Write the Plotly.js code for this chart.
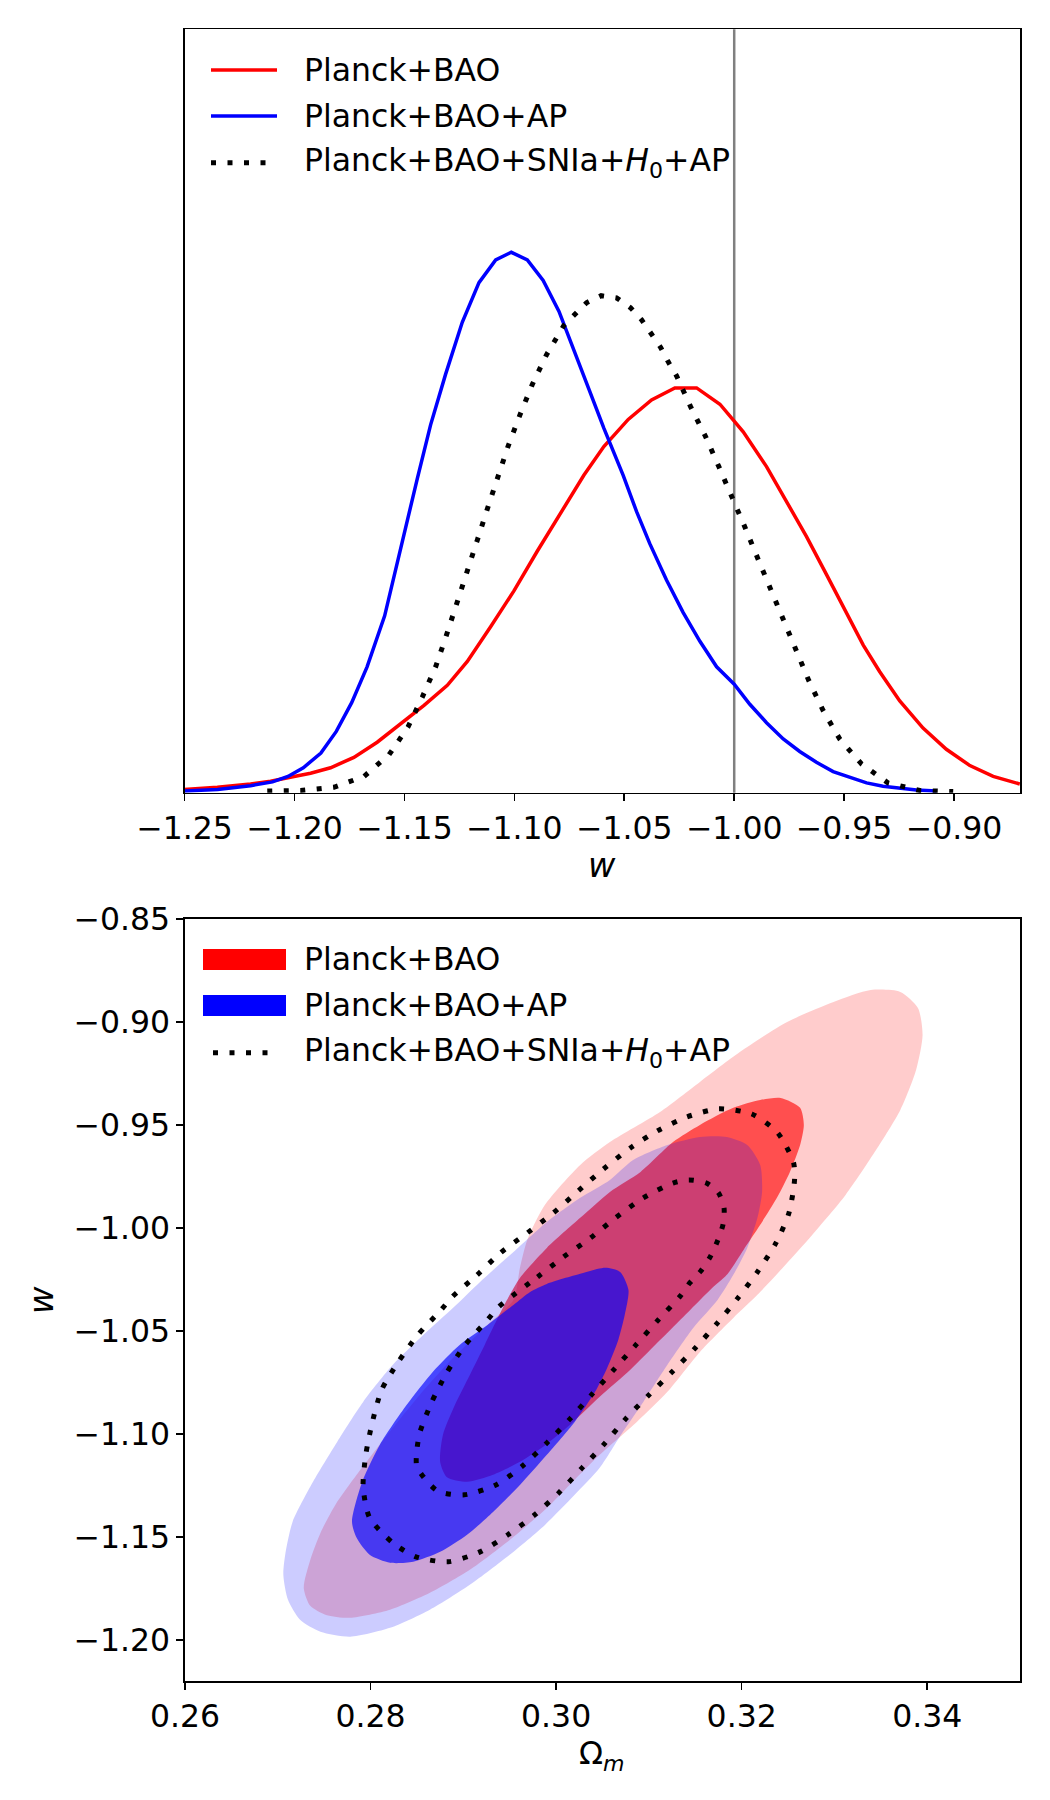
<!DOCTYPE html>
<html>
<head>
<meta charset="utf-8">
<script src="https://cdn.plot.ly/plotly-3.0.1.min.js"></script>
<style>html,body{margin:0;padding:0;background:#fff}</style>
</head>
<body>
<div id="chart" style="width:1050px;height:1800px"></div>
<script>
// ---------- 1D marginal posteriors of w ----------
const seriesNames = ["Planck+BAO", "Planck+BAO+AP", "Planck+BAO+SNIa+<i>H</i><sub>0</sub>+AP"];

const wRed = [-1.2503,-1.2351,-1.2200,-1.2109,-1.2002,-1.1927,-1.1836,-1.1730,-1.1624,-1.1502,-1.1411,-1.1305,-1.1214,-1.1108,-1.1002,-1.0896,-1.0790,-1.0684,-1.0593,-1.0482,-1.0376,-1.0270,-1.0171,-1.0065,-1.0000,-0.9959,-0.9853,-0.9762,-0.9671,-0.9580,-0.9489,-0.9413,-0.9338,-0.9247,-0.9141,-0.9035,-0.8928,-0.8822,-0.8701];
const pRed = [0.006,0.010,0.016,0.021,0.030,0.036,0.046,0.065,0.093,0.133,0.161,0.198,0.242,0.306,0.372,0.445,0.515,0.585,0.638,0.688,0.724,0.746,0.746,0.716,0.685,0.665,0.601,0.538,0.472,0.402,0.332,0.272,0.223,0.169,0.119,0.080,0.050,0.030,0.016];

const wBlue = [-1.2500,-1.2350,-1.2200,-1.2100,-1.2030,-1.1960,-1.1880,-1.1810,-1.1740,-1.1670,-1.1590,-1.1548,-1.1442,-1.1381,-1.1313,-1.1237,-1.1161,-1.1085,-1.1014,-1.0941,-1.0869,-1.0797,-1.0729,-1.0661,-1.0593,-1.0505,-1.0444,-1.0384,-1.0308,-1.0232,-1.0156,-1.0080,-1.0000,-0.9929,-0.9853,-0.9777,-0.9702,-0.9626,-0.9550,-0.9474,-0.9398,-0.9323,-0.9247,-0.9171,-0.9080];
const pBlue = [0.003,0.006,0.013,0.020,0.030,0.046,0.073,0.113,0.166,0.232,0.326,0.399,0.578,0.678,0.771,0.867,0.940,0.982,0.996,0.982,0.944,0.887,0.817,0.744,0.672,0.585,0.518,0.459,0.392,0.332,0.279,0.232,0.200,0.163,0.129,0.099,0.076,0.056,0.039,0.028,0.018,0.012,0.008,0.005,0.003];

const wBlack = [-1.2124,-1.1972,-1.1821,-1.1684,-1.1570,-1.1484,-1.1419,-1.1358,-1.1310,-1.1260,-1.1214,-1.1169,-1.1123,-1.1078,-1.1029,-1.0975,-1.0919,-1.0854,-1.0775,-1.0672,-1.0605,-1.0535,-1.0472,-1.0422,-1.0376,-1.0335,-1.0300,-1.0262,-1.0199,-1.0131,-1.0070,-1.0008,-0.9952,-0.9894,-0.9836,-0.9779,-0.9721,-0.9661,-0.9595,-0.9520,-0.9421,-0.9300,-0.9156,-0.9004];
const pBlack = [0.003,0.004,0.010,0.030,0.070,0.121,0.176,0.232,0.289,0.349,0.407,0.465,0.523,0.580,0.638,0.696,0.752,0.807,0.861,0.903,0.916,0.912,0.894,0.872,0.846,0.821,0.794,0.768,0.712,0.657,0.601,0.545,0.490,0.433,0.377,0.319,0.262,0.207,0.151,0.099,0.053,0.018,0.004,0.002];

const wLambda = -1.0;   // cosmological-constant reference

const wTickVals = [-1.25,-1.20,-1.15,-1.10,-1.05,-1.00,-0.95,-0.90];
const wTickText = ["\u22121.25","\u22121.20","\u22121.15","\u22121.10","\u22121.05","\u22121.00","\u22120.95","\u22120.90"];

// ---------- 2D constraints in the (Omega_m, w) plane ----------
// Planck+BAO, 95% and 68% regions
const red95Om = [0.3339,0.3371,0.3390,0.3395,0.3388,0.3371,0.3345,0.3312,0.3276,0.3247,0.3217,0.3191,0.3155,0.3120,0.3087,0.3047,0.3020,0.2988,0.2950,0.2907,0.2864,0.2821,0.2778,0.2752,0.2735,0.2728,0.2735,0.2746,0.2762,0.2785,0.2818,0.2853,0.2889,0.2926,0.2954,0.2961,0.2969,0.2988,0.3026,0.3058,0.3112,0.3155,0.3198,0.3249,0.3299];
const red95W  = [-0.8845,-0.8854,-0.8932,-0.9063,-0.9233,-0.9427,-0.9621,-0.9840,-1.0034,-1.0180,-1.0325,-1.0437,-1.0602,-1.0796,-1.0942,-1.1102,-1.1223,-1.1369,-1.1515,-1.1660,-1.1772,-1.1854,-1.1893,-1.1879,-1.1835,-1.1748,-1.1612,-1.1481,-1.1345,-1.1199,-1.1005,-1.0811,-1.0631,-1.0471,-1.0350,-1.0194,-1.0058,-0.9888,-0.9694,-0.9583,-0.9437,-0.9291,-0.9146,-0.9000,-0.8903];

const red68Om = [0.3242,0.3263,0.3267,0.3263,0.3252,0.3238,0.3220,0.3202,0.3184,0.3166,0.3137,0.3109,0.3080,0.3047,0.3015,0.2990,0.2961,0.2932,0.2904,0.2882,0.2875,0.2878,0.2891,0.2907,0.2923,0.2936,0.2947,0.2961,0.2990,0.3026,0.3058,0.3091,0.3126,0.3155,0.3191,0.3220];
const red68W  = [-0.9369,-0.9417,-0.9500,-0.9597,-0.9728,-0.9854,-0.9985,-1.0107,-1.0228,-1.0301,-1.0432,-1.0558,-1.0689,-1.0820,-1.0956,-1.1049,-1.1136,-1.1199,-1.1233,-1.1209,-1.1136,-1.1005,-1.0859,-1.0714,-1.0568,-1.0447,-1.0350,-1.0243,-1.0097,-0.9951,-0.9825,-0.9728,-0.9583,-0.9500,-0.9417,-0.9379];

// Planck+BAO+AP, 95% and 68% regions
const blue95Om = [0.2706,0.2708,0.2716,0.2738,0.2764,0.2792,0.2824,0.2857,0.2889,0.2918,0.2954,0.2990,0.3026,0.3058,0.3083,0.3120,0.3155,0.3184,0.3206,0.3220,0.3222,0.3217,0.3206,0.3191,0.3174,0.3148,0.3120,0.3094,0.3072,0.3047,0.3020,0.2988,0.2950,0.2907,0.2864,0.2821,0.2778,0.2746,0.2724,0.2711];
const blue95W  = [-1.1685,-1.1587,-1.1427,-1.1233,-1.1039,-1.0845,-1.0665,-1.0519,-1.0388,-1.0262,-1.0117,-0.9971,-0.9854,-0.9767,-0.9670,-0.9597,-0.9558,-0.9558,-0.9597,-0.9694,-0.9825,-0.9951,-1.0097,-1.0228,-1.0350,-1.0485,-1.0665,-1.0845,-1.0990,-1.1165,-1.1296,-1.1442,-1.1587,-1.1733,-1.1854,-1.1942,-1.1985,-1.1961,-1.1903,-1.1806];

const blue68Om = [0.2780,0.2791,0.2810,0.2839,0.2867,0.2896,0.2926,0.2954,0.2972,0.2990,0.3026,0.3053,0.3069,0.3078,0.3074,0.3067,0.3055,0.3042,0.3020,0.2990,0.2961,0.2932,0.2904,0.2875,0.2846,0.2821,0.2799,0.2785];
const blue68W  = [-1.1427,-1.1233,-1.1053,-1.0859,-1.0699,-1.0568,-1.0471,-1.0374,-1.0311,-1.0272,-1.0223,-1.0194,-1.0214,-1.0301,-1.0422,-1.0544,-1.0680,-1.0796,-1.0942,-1.1102,-1.1248,-1.1379,-1.1490,-1.1573,-1.1621,-1.1626,-1.1587,-1.1505];

// Planck+BAO+SNIa+H0+AP, 95% and 68% contours
const blk95Om = [0.2888,0.2915,0.2940,0.2969,0.2997,0.3024,0.3051,0.3080,0.3109,0.3141,0.3175,0.3211,0.3239,0.3256,0.3257,0.3251,0.3237,0.3217,0.3196,0.3174,0.3150,0.3125,0.3100,0.3075,0.3052,0.3028,0.3003,0.2977,0.2948,0.2918,0.2884,0.2849,0.2824,0.2799,0.2792,0.2795,0.2802,0.2812,0.2830,0.2851,0.2876];
const blk95W  = [-1.0335,-1.0228,-1.0121,-1.0024,-0.9927,-0.9820,-0.9714,-0.9612,-0.9529,-0.9461,-0.9422,-0.9447,-0.9539,-0.9684,-0.9767,-0.9927,-1.0073,-1.0214,-1.0340,-1.0461,-1.0583,-1.0699,-1.0811,-1.0927,-1.1049,-1.1165,-1.1286,-1.1393,-1.1490,-1.1573,-1.1621,-1.1597,-1.1529,-1.1408,-1.1257,-1.1097,-1.0942,-1.0786,-1.0650,-1.0519,-1.0398];

const blk68Om = [0.2950,0.2980,0.3008,0.3037,0.3064,0.3094,0.3126,0.3143,0.3162,0.3175,0.3181,0.3180,0.3174,0.3166,0.3156,0.3144,0.3134,0.3110,0.3086,0.3063,0.3039,0.3015,0.2990,0.2964,0.2935,0.2901,0.2872,0.2850,0.2850,0.2853,0.2866,0.2882,0.2902,0.2926,0.2937];
const blk68W  = [-1.0340,-1.0238,-1.0141,-1.0049,-0.9951,-0.9854,-0.9782,-0.9767,-0.9782,-0.9830,-0.9903,-0.9981,-1.0063,-1.0141,-1.0209,-1.0267,-1.0330,-1.0447,-1.0568,-1.0684,-1.0806,-1.0927,-1.1044,-1.1155,-1.1248,-1.1296,-1.1277,-1.1160,-1.1078,-1.0995,-1.0845,-1.0704,-1.0568,-1.0447,-1.0388];

const omTickVals = [0.26,0.28,0.30,0.32,0.34];
const omTickText = ["0.26","0.28","0.30","0.32","0.34"];
const w2TickVals = [-0.85,-0.90,-0.95,-1.00,-1.05,-1.10,-1.15,-1.20];
const w2TickText = ["\u22120.85","\u22120.90","\u22120.95","\u22121.00","\u22121.05","\u22121.10","\u22121.15","\u22121.20"];

// ---------- drawing ----------
const FIG_W = 1050, FIG_H = 1800;
const fx = v => v / FIG_W;          // pixel -> paper x
const fy = v => 1 - v / FIG_H;      // pixel -> paper y
const FONT = "DejaVu Sans, Liberation Sans, sans-serif";
const FS = 31.5;

const RED = "#ff0000", BLUE = "#0000ff";
const LW = 3.5;
const dotStyle = {color: "black", width: 5, dash: "5px,11.5px"};

function closed(a) { return a.concat([a[0]]); }
function region(xs, ys, color) {
  return {type: "scatter", mode: "lines", x: closed(xs), y: closed(ys),
          xaxis: "x2", yaxis: "y2", fill: "toself", fillcolor: color,
          line: {width: 0, shape: "spline", smoothing: 0.7}, hoverinfo: "skip"};
}
function contour(xs, ys) {
  return {type: "scatter", mode: "lines", x: closed(xs), y: closed(ys),
          xaxis: "x2", yaxis: "y2",
          line: Object.assign({shape: "spline", smoothing: 0.7}, dotStyle), hoverinfo: "skip"};
}

const traces = [
  {type: "scatter", mode: "lines", x: wRed, y: pRed, xaxis: "x", yaxis: "y",
   line: {color: RED, width: LW}, hoverinfo: "skip"},
  {type: "scatter", mode: "lines", x: wBlue, y: pBlue, xaxis: "x", yaxis: "y",
   line: {color: BLUE, width: LW}, hoverinfo: "skip"},
  {type: "scatter", mode: "lines", x: wBlack, y: pBlack, xaxis: "x", yaxis: "y",
   line: dotStyle, hoverinfo: "skip"},

  region(red95Om, red95W, "rgba(255,0,0,0.2)"),
  region(red68Om, red68W, "rgba(255,0,0,0.61)"),
  region(blue95Om, blue95W, "rgba(0,0,255,0.2)"),
  region(blue68Om, blue68W, "rgba(0,0,255,0.65)"),
  contour(blk95Om, blk95W),
  contour(blk68Om, blk68W)
];

const axisCommon = {
  showline: true, mirror: true, linecolor: "black", linewidth: 1.6,
  showgrid: false, zeroline: false, ticks: "outside", ticklen: 7, tickwidth: 1.6,
  tickcolor: "black", tickfont: {family: FONT, size: FS, color: "black"}
};

const shapes = [
  {type: "line", xref: "x", yref: "y domain", x0: wLambda, x1: wLambda, y0: 0, y1: 1,
   line: {color: "#808080", width: 2.5}, layer: "below"}
];
const annotations = [];

// legend, upper panel
const legTopY = [70, 116, 162.7];
const legLines = [{color: RED, width: LW}, {color: BLUE, width: LW}, dotStyle];
legTopY.forEach((y, i) => {
  shapes.push({type: "line", xref: "paper", yref: "paper",
    x0: fx(211), x1: fx(i === 2 ? 271 : 277), y0: fy(y), y1: fy(y), line: legLines[i]});
  annotations.push({xref: "paper", yref: "paper", x: fx(302), y: fy(y), xanchor: "left", yanchor: "middle",
    text: seriesNames[i], showarrow: false, font: {family: FONT, size: FS, color: "black"}});
});

// legend, lower panel
const legBotY = [959.5, 1005.5, 1052.7];
shapes.push({type: "rect", xref: "paper", yref: "paper", x0: fx(203), x1: fx(286), y0: fy(949), y1: fy(970),
  fillcolor: RED, line: {width: 0}});
shapes.push({type: "rect", xref: "paper", yref: "paper", x0: fx(203), x1: fx(286), y0: fy(995), y1: fy(1016),
  fillcolor: BLUE, line: {width: 0}});
shapes.push({type: "line", xref: "paper", yref: "paper", x0: fx(213), x1: fx(273),
  y0: fy(legBotY[2]), y1: fy(legBotY[2]), line: dotStyle});
legBotY.forEach((y, i) => {
  annotations.push({xref: "paper", yref: "paper", x: fx(302), y: fy(y), xanchor: "left", yanchor: "middle",
    text: seriesNames[i], showarrow: false, font: {family: FONT, size: FS, color: "black"}});
});

// axis titles
annotations.push({xref: "paper", yref: "paper", x: fx(602), y: fy(865), xanchor: "center", yanchor: "middle",
  text: "<i>w</i>", showarrow: false, font: {family: FONT, size: FS + 2, color: "black"}});
annotations.push({xref: "paper", yref: "paper", x: fx(602), y: fy(1755), xanchor: "center", yanchor: "middle",
  text: "\u03A9<sub><i>m</i></sub>", showarrow: false, font: {family: FONT, size: FS, color: "black"}});
annotations.push({xref: "paper", yref: "paper", x: fx(41), y: fy(1300), xanchor: "center", yanchor: "middle",
  text: "<i>w</i>", textangle: -90, showarrow: false, font: {family: FONT, size: FS + 2, color: "black"}});

const layout = {
  width: FIG_W, height: FIG_H,
  margin: {l: 0, r: 0, t: 0, b: 0},
  paper_bgcolor: "white", plot_bgcolor: "white",
  showlegend: false,
  font: {family: FONT, size: FS, color: "black"},
  xaxis: Object.assign({}, axisCommon, {
    domain: [fx(184.6), fx(1020)], range: [-1.25, -0.87], anchor: "y",
    tickmode: "array", tickvals: wTickVals, ticktext: wTickText}),
  yaxis: Object.assign({}, axisCommon, {
    domain: [fy(792.7), fy(29.3)], range: [0, 1.407], anchor: "x",
    ticks: "", showticklabels: false}),
  xaxis2: Object.assign({}, axisCommon, {
    domain: [fx(185), fx(1020)], range: [0.26, 0.35], anchor: "y2",
    tickmode: "array", tickvals: omTickVals, ticktext: omTickText}),
  yaxis2: Object.assign({}, axisCommon, {
    domain: [fy(1681), fy(919)], range: [-1.22, -0.85], anchor: "x2",
    tickmode: "array", tickvals: w2TickVals, ticktext: w2TickText}),
  shapes: shapes,
  annotations: annotations
};

Plotly.newPlot("chart", traces, layout, {staticPlot: true, displayModeBar: false});
</script>
</body>
</html>
